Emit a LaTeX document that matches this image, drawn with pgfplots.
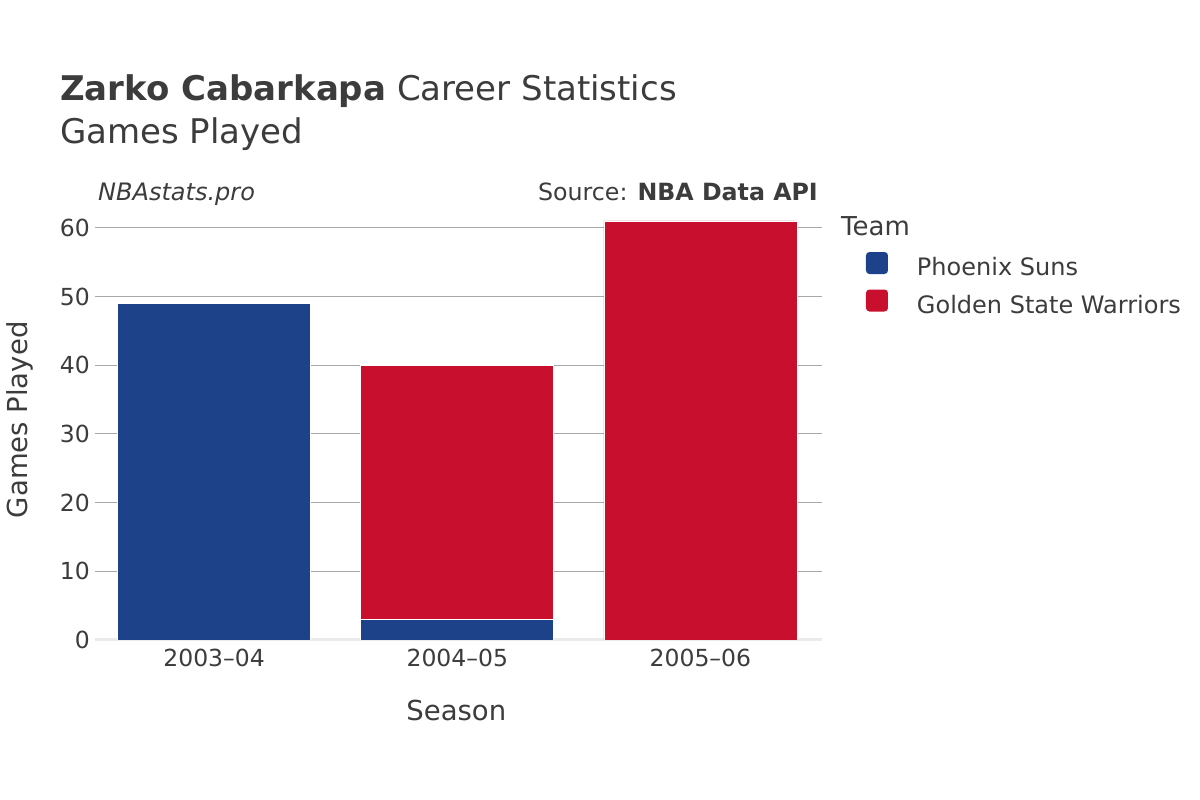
\documentclass[border=0pt]{standalone}
\usepackage{pgfplots}
\pgfplotsset{compat=1.18}
\usepackage{fontspec}
\setmainfont{DejaVu Sans}

\definecolor{suns}{HTML}{1D428A}
\definecolor{gsw}{HTML}{C8102E}
\definecolor{txt}{HTML}{3C3C3C}
\definecolor{gridc}{HTML}{A8A8A8}
\definecolor{zeroc}{HTML}{EBEBEB}

\begin{document}
\begin{tikzpicture}[x=1pt,y=1pt]
\fill[white] (0,0) rectangle (1200,800);

% titles
\node[anchor=base west, text=txt, inner sep=0pt, font=\fontsize{34}{40}\selectfont]
  at (60,699) {\textbf{Zarko Cabarkapa} Career Statistics};
\node[anchor=base west, text=txt, inner sep=0pt, font=\fontsize{34}{40}\selectfont]
  at (60,656) {Games Played};
\node[anchor=base west, text=txt, inner sep=0pt, font=\fontsize{24}{28}\selectfont\itshape]
  at (98,599) {NBAstats.pro};
\node[anchor=base east, text=txt, inner sep=0pt, font=\fontsize{23.7}{28}\selectfont]
  at (818,599) {Source: \textbf{NBA Data API}};
\node[anchor=base west, text=txt, inner sep=0pt, font=\fontsize{26}{30}\selectfont]
  at (841,564.5) {Team};

\begin{axis}[
    at={(95pt,160pt)}, anchor=south west,
    scale only axis,
    width=727pt, height=430pt,
    xmin=-0.49, xmax=2.5,
    ymin=0, ymax=62.6,
    ybar stacked,
    bar width=0.794,
    xtick={0,1,2},
    xticklabels={2003–04,2004–05,2005–06},
    ytick={10,20,...,60},
    extra y ticks={0},
    extra y tick style={major grid style={zeroc, line width=3pt}},
    axis line style={draw=none},
    major tick style={draw=none},
    ymajorgrids,
    major grid style={gridc, line width=1pt},
    /pgf/number format/assume math mode=true,
    ticklabel style={font=\fontsize{23.5}{27}\selectfont, text=txt, inner sep=0pt},
    yticklabel style={anchor=east, xshift=-5pt},
    xticklabel style={anchor=north, yshift=-9pt},
    xlabel={Season},
    ylabel={Games Played},
    label style={font=\fontsize{27.5}{32}\selectfont, text=txt, inner sep=0pt},
    xlabel style={at={(axis description cs:0.497,-0.188)}, anchor=base},
    ylabel style={at={(axis description cs:-0.0922,0.512)}, anchor=base, rotate=0},
    legend cell align=left,
    legend image code/.code={\fill[#1, draw=none, rounded corners=3.5pt] (-2pt,-5.5pt) rectangle (20pt,16.5pt);},
    legend style={at={(axis description cs:1.0605,0.9023)}, anchor=north west,
        draw=none, fill=none, inner sep=0pt, outer sep=0pt,
        row sep=10pt, column sep=29pt,
        nodes={inner sep=0pt, text=txt, font=\fontsize{24}{28}\selectfont,
               text height=18pt, text depth=4pt}},
]
\addplot[fill=suns, draw=white, line width=0.8pt] coordinates {(0,49) (1,3) (2,0)};
\addlegendentry{Phoenix Suns}
\addplot[fill=gsw, draw=white, line width=0.8pt] coordinates {(0,0) (1,37) (2,61)};
\addlegendentry{Golden State Warriors}
\end{axis}
\end{tikzpicture}
\end{document}
